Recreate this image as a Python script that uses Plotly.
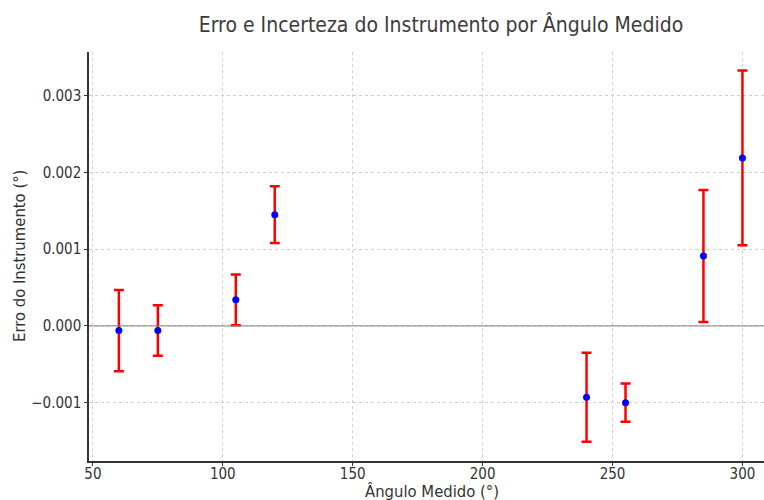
import plotly.graph_objects as go

angles = [60, 75, 105, 120, 240, 255, 285, 300]
errors = [-0.00006, -0.00006, 0.00034, 0.00145, -0.00093, -0.00100, 0.00091, 0.00219]
uncert = [0.00053, 0.00033, 0.00033, 0.00037, 0.00058, 0.00025, 0.00086, 0.00114]
x_ticks = [50, 100, 150, 200, 250, 300]
y_ticks = [-0.001, 0.0, 0.001, 0.002, 0.003]

title = "Erro e Incerteza do Instrumento por Ângulo Medido"
xlabel = "Ângulo Medido (°)"
ylabel = "Erro do Instrumento (°)"
font = "DejaVu Sans Condensed, DejaVu Sans"

L, T, B, W, H = 89, 52, 39, 764, 500
plot_w = W - L
plot_h = H - T - B

fig = go.Figure()
fig.add_trace(go.Scatter(
    x=angles, y=errors, mode="markers",
    marker=dict(color="blue", size=7),
    error_y=dict(type="data", array=uncert, visible=True, color="red",
                 thickness=2.5, width=5),
    showlegend=False,
))
fig.add_hline(y=0, line=dict(color="#808080", width=1))

fig.add_annotation(text=xlabel, xref="paper", yref="paper",
                   x=(432 - L) / plot_w, y=-(491 - (H - B)) / plot_h,
                   xanchor="center", yanchor="middle", showarrow=False,
                   font=dict(size=16.5, color="#333333"))
fig.add_annotation(text=ylabel, xref="paper", yref="paper",
                   x=(19 - L) / plot_w, y=((H - B) - 256) / plot_h,
                   xanchor="center", yanchor="middle", showarrow=False,
                   textangle=-90, font=dict(size=16.5, color="#333333"))

fig.update_layout(
    width=W, height=H,
    margin=dict(l=L, r=0, t=T, b=B, autoexpand=False),
    paper_bgcolor="white", plot_bgcolor="white",
    font=dict(family=font, size=15, color="#333333"),
    title=dict(text=title, x=441 / W, xanchor="center", y=1 - 25 / H, yanchor="middle",
               font=dict(size=21, color="#3c3c3c")),
    xaxis=dict(range=[48.5, 308.3], tickvals=x_ticks,
               showgrid=True, gridcolor="#d0d0d0", griddash="dot", gridwidth=1,
               showline=True, linecolor="#333333", linewidth=1.5,
               ticks="outside", ticklen=3, tickcolor="#333333",
               ticklabelstandoff=-5,
               zeroline=False),
    yaxis=dict(range=[-0.00176, 0.00357], tickvals=y_ticks,
               tickformat=".3f",
               showgrid=True, gridcolor="#d0d0d0", griddash="dot", gridwidth=1,
               showline=True, linecolor="#333333", linewidth=1.5,
               ticks="outside", ticklen=3, tickcolor="#333333",
               zeroline=False),
)

fig.write_html("out.html", config={"displayModeBar": False},
               post_script="document.body.style.margin='0';")
